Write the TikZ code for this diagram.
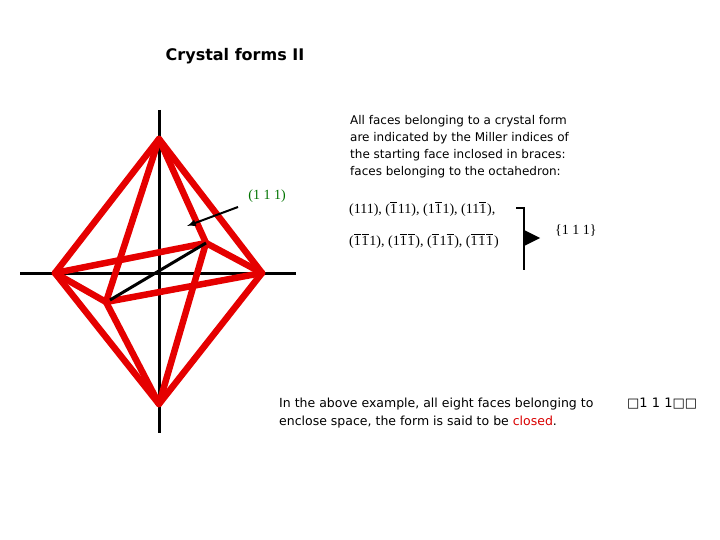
\documentclass[tikz,border=0pt]{standalone}
\usepackage{fontspec}
\setmainfont{DejaVu Sans}
\newfontfamily\ser{Liberation Serif}
\begin{document}
\begin{tikzpicture}[x=1pt,y=-1pt,
  edge/.style={draw=red!90!black,line width=6.5pt,line join=round,line cap=round},
  ax/.style={draw=black,line width=3pt},
  txt/.style={anchor=north west,align=left,inner sep=0pt,font=\fontsize{12}{17}\selectfont},
  mil/.style={anchor=west,inner sep=0pt,font=\ser\fontsize{14}{17}\selectfont}]
\useasboundingbox (0,0) rectangle (720,540);
\def\ob#1{$\overline{\mbox{#1}}\mkern1mu$}
\coordinate (at) at (159,110); \coordinate (ab) at (159,433);
\coordinate (al) at (20,273); \coordinate (ar) at (296,273);
\draw[ax] (at) -- (ab); \draw[ax] (al) -- (ar);
\coordinate (T) at (159,139); \coordinate (B) at (159,404);
\coordinate (L) at (55,273); \coordinate (R) at (262,273);
\coordinate (F) at (106,302); \coordinate (K) at (206,243);
\foreach \a/\b in {T/L,T/R,T/F,T/K,B/L,B/R,B/F,B/K,L/K,L/F,R/F,R/K}
  \draw[edge] (\a) -- (\b);
\draw[black,line width=3pt] (110,300) -- (K);
\node[font=\bfseries\fontsize{16}{20}\selectfont] (title) at (235,56) {Crystal forms II};
\node[txt] (desc) at (350,115) {All faces belonging to a crystal form\\are indicated by the Miller indices of\\the starting face inclosed in braces:\\faces belonging to the octahedron:};
\node[font=\ser\fontsize{14}{15}\selectfont,text=green!45!black] (lab) at (267,196) {(1 1 1)};
\coordinate (tip) at (187,226);
\draw[-latex,line width=2pt] (238,207) -- (tip);
\node[mil] (r1) at (349,209) {(111), (\ob{1}11), (1\ob{1}1), (11\ob{1}),};
\node[mil] (r2) at (349,241) {(\ob{1}\ob{1}1), (1\ob{1}\ob{1}), (\ob{1}1\ob{1}), (\ob{1}\ob{1}\ob{1})};
\coordinate (b1) at (516,208); \coordinate (b2) at (524,208); \coordinate (b3) at (524,270);
\draw[line width=2pt] (b1) -- (b2) -- (b3);
\fill (524,230) -- (540,238) -- (524,246) -- cycle;
\node[mil] (form) at (555,231) {\{1 1 1\}};
\node[txt,font=\fontsize{12.5}{18}\selectfont] (bot) at (279,398) {In the above example, all eight faces belonging to\\enclose space, the form is said to be \textcolor{red!85!black}{closed}.};
\node[anchor=north west,inner sep=0pt,font=\fontsize{13}{14}\selectfont] (sym) at (627,398) {□1 1 1□□};
\end{tikzpicture}
\end{document}
